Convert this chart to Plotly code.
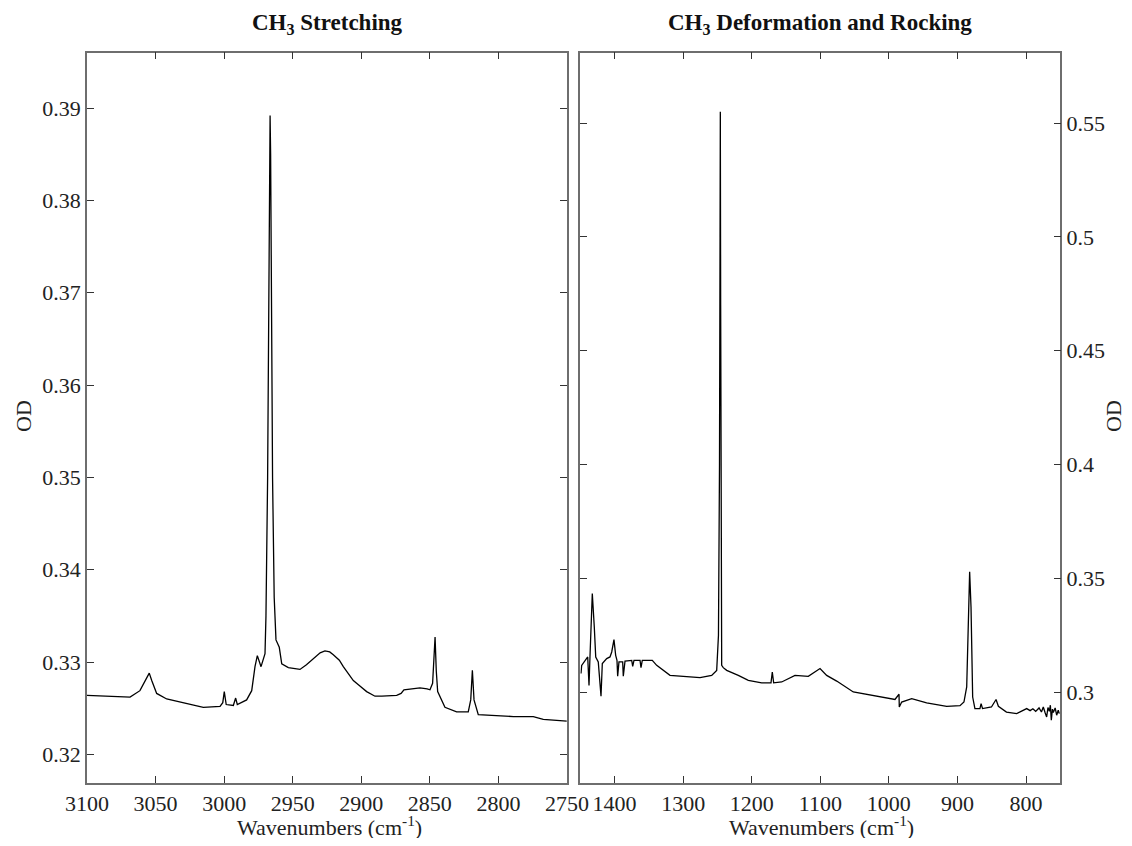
import plotly.graph_objects as go

# CH3 stretching region (left panel)
stretch_wn = [3100, 3085, 3068.6, 3061.4, 3056.5, 3054.6, 3052.8, 3049.2, 3041.9, 3032.2,
              3015.2, 3003, 3001, 2999.9, 2998.5, 2993.3, 2991.6, 2990.4, 2983.6, 2979.9,
              2977.5, 2975.8, 2973.1, 2970.2, 2969.5, 2968.3, 2967.5, 2966.9, 2966.5, 2966.1,
              2965.5, 2964.7, 2963.5, 2962.2, 2959.8, 2958.0, 2953.2, 2944.7, 2940.0, 2935.0,
              2930.0, 2926.5, 2923.0, 2920.4, 2916.0, 2913.1, 2909.0, 2905.8, 2901.0, 2896.1,
              2890.0, 2885.0, 2874.2, 2871.0, 2868.9, 2862.0, 2857.2, 2852.0, 2849.9, 2848.0,
              2847.2, 2846.2, 2845.3, 2844.3, 2839.0, 2830.5, 2822.0, 2820.2, 2819.0, 2817.8,
              2814.7, 2789.1, 2774.6, 2767.3, 2750.2]
stretch_od = [0.3264, 0.3263, 0.3262, 0.3269, 0.3282, 0.3288, 0.3280, 0.3266, 0.3260, 0.3257,
              0.3251, 0.3252, 0.3256, 0.3268, 0.3254, 0.3253, 0.3261, 0.3254, 0.3259, 0.3269,
              0.3295, 0.3307, 0.3295, 0.3309, 0.3350, 0.3500, 0.3700, 0.3850, 0.3892, 0.3850,
              0.3700, 0.3500, 0.3370, 0.3324, 0.3316, 0.3298, 0.3294, 0.3292, 0.3297, 0.3304,
              0.3310, 0.3312, 0.3311, 0.3308, 0.3302, 0.3295, 0.3287, 0.3280, 0.3274, 0.3268,
              0.3263, 0.3263, 0.3264, 0.3266, 0.3270, 0.3271, 0.3272, 0.3271, 0.3270, 0.3277,
              0.3300, 0.3327, 0.3290, 0.3268, 0.3251, 0.3246, 0.3246, 0.3259, 0.3291, 0.3259,
              0.3243, 0.3241, 0.3241, 0.3238, 0.3236]

# CH3 deformation and rocking region (right panel)
rock_wn = [1449.0, 1448.0, 1439.2, 1437.3, 1435.9, 1432.5, 1429.6, 1427.5, 1423.8, 1419.8,
           1417.9, 1411.5, 1406.7, 1404.2, 1400.9, 1398.4, 1396.5, 1395.5, 1393.6, 1388.2,
           1387.3, 1384.8, 1375.0, 1373.6, 1371.7, 1362.9, 1361.5, 1359.6, 1345.0, 1338.6,
           1319.2, 1297.3, 1275.4, 1258.4, 1251.1, 1248.5, 1247.0, 1246.2, 1245.8, 1245.3,
           1244.6, 1243.8, 1241.5, 1236.5, 1219.6, 1205.0, 1185.5, 1171.9, 1170.0, 1168.0,
           1156.3, 1136.9, 1117.5, 1100.4, 1090.7, 1076.1, 1051.9, 1022.7, 991.1, 985.2,
           984.8, 981.3, 966.7, 944.9, 915.7, 896.3, 890.5, 886.5, 883.2, 882.2,
           880.2, 877.8, 874.5, 867.2, 865.5, 863.4, 850.4, 843.7, 840.3, 828.5,
           813.6, 799.0, 794.0, 790.0, 785.9, 781.0, 777.5, 774.8, 772.0, 769.9,
           768.0, 766.0, 764.5, 763.1, 761.5, 760.2, 757.5, 755.3, 753.0, 751.5]
rock_od = [0.3081, 0.3117, 0.3154, 0.3029, 0.3154, 0.3433, 0.3286, 0.3154, 0.3132, 0.2981,
           0.3125, 0.3147, 0.3154, 0.3176, 0.3230, 0.3161, 0.3139, 0.3069, 0.3132, 0.3132,
           0.3069, 0.3136, 0.3139, 0.3113, 0.3139, 0.3139, 0.3107, 0.3139, 0.3139, 0.3117,
           0.3073, 0.3069, 0.3063, 0.3073, 0.3095, 0.3250, 0.4000, 0.5000, 0.5550, 0.4700,
           0.3300, 0.3117, 0.3107, 0.3095, 0.3073, 0.3051, 0.3040, 0.3040, 0.3088, 0.3040,
           0.3044, 0.3073, 0.3069, 0.3103, 0.3073, 0.3048, 0.3000, 0.2985, 0.2967, 0.2990,
           0.2934, 0.2956, 0.2971, 0.2952, 0.2937, 0.2940, 0.2956, 0.3022, 0.3374, 0.3528,
           0.3374, 0.2978, 0.2927, 0.2927, 0.2949, 0.2927, 0.2934, 0.2967, 0.2937, 0.2912,
           0.2905, 0.2927, 0.2918, 0.2926, 0.2915, 0.2930, 0.2912, 0.2934, 0.2908, 0.2890,
           0.2932, 0.2915, 0.2942, 0.2876, 0.2925, 0.2910, 0.2930, 0.2898, 0.2920, 0.2905]

stretch_ticks = [3100, 3050, 3000, 2950, 2900, 2850, 2800, 2750]
rock_ticks = [1400, 1300, 1200, 1100, 1000, 900, 800]
stretch_yticks = [0.32, 0.33, 0.34, 0.35, 0.36, 0.37, 0.38, 0.39]
rock_yticks = [0.3, 0.35, 0.4, 0.45, 0.5, 0.55]

FONT = "Liberation Serif"
# page has an 8px body margin, so the figure is drawn 8px in from the window
FW, FH = 1116, 830


def fx(px):
    return (px - 8) / FW


def fy(py):
    return 1 - (py - 8) / FH


fig = go.Figure()
fig.add_trace(go.Scatter(x=stretch_wn, y=stretch_od, mode="lines",
                         line=dict(color="black", width=1.3),
                         xaxis="x", yaxis="y", showlegend=False))
fig.add_trace(go.Scatter(x=rock_wn, y=rock_od, mode="lines",
                         line=dict(color="black", width=1.3),
                         xaxis="x2", yaxis="y2", showlegend=False))

axis_common = dict(showline=True, linecolor="#6e6e6e", linewidth=1.5, mirror="ticks",
                   ticks="inside", ticklen=7, tickcolor="#333", tickwidth=1.2,
                   showgrid=False, zeroline=False, automargin=False,
                   tickfont=dict(family=FONT, size=22, color="#222"))

ydom = [fy(783), fy(52.7)]
fig.update_layout(
    width=FW, height=FH, plot_bgcolor="white", paper_bgcolor="white",
    margin=dict(l=0, r=0, t=0, b=0),
    xaxis=dict(domain=[fx(87), fx(567)], range=[3100, 2750], anchor="y",
               tickvals=stretch_ticks, ticktext=[str(t) for t in stretch_ticks], **axis_common),
    yaxis=dict(domain=ydom, range=[0.3169, 0.396], anchor="x",
               tickvals=stretch_yticks, ticktext=[f"{v:.2f}" for v in stretch_yticks],
               **axis_common),
    xaxis2=dict(domain=[fx(580.3), fx(1060.3)], range=[1450, 750], anchor="y2",
                tickvals=rock_ticks, ticktext=[str(t) for t in rock_ticks], **axis_common),
    yaxis2=dict(domain=ydom, range=[0.26, 0.581], anchor="x2", side="right",
                tickvals=rock_yticks, ticktext=[f"{v:g}" for v in rock_yticks],
                **axis_common),
)

title_font = dict(family=FONT, size=23, color="#111")
label_font = dict(family=FONT, size=22, color="#222")
annotations = [
    dict(text="<b>CH<sub>3</sub> Stretching</b>", x=fx(327), y=fy(24), font=title_font),
    dict(text="<b>CH<sub>3</sub> Deformation and Rocking</b>", x=fx(820), y=fy(24),
         font=title_font),
    dict(text="Wavenumbers (cm<sup>-1</sup>)", x=fx(329), y=fy(826), font=label_font),
    dict(text="Wavenumbers (cm<sup>-1</sup>)", x=fx(821), y=fy(826), font=label_font),
    dict(text="OD", x=fx(23), y=fy(416), textangle=-90, font=label_font),
    dict(text="OD", x=fx(1113), y=fy(416), textangle=-90, font=label_font),
]
for a in annotations:
    fig.add_annotation(xref="paper", yref="paper", showarrow=False,
                       xanchor="center", yanchor="middle", **a)

fig.write_html("out.html")
